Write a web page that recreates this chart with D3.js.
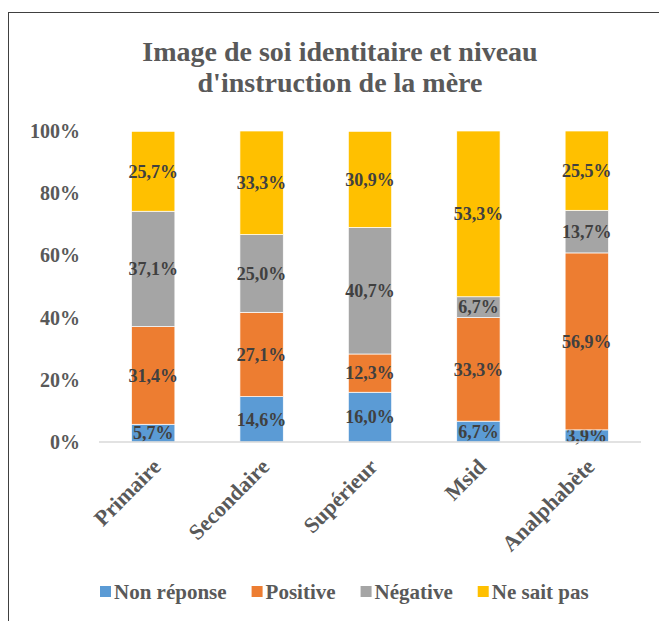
<!DOCTYPE html>
<html>
<head>
<meta charset="utf-8">
<script src="https://cdn.jsdelivr.net/npm/d3@7"></script>
<style>
    body { margin: 0; background: #ffffff; }
    svg text { font-family: "Liberation Serif", "Times New Roman", serif; font-weight: bold; }
</style>
</head>
<body>
<div id="chart"></div>
<script>

const categories = ['Primaire', 'Secondaire', 'Supérieur', 'Msid', 'Analphabète'];
const seriesNames = ['Non réponse', 'Positive', 'Négative', 'Ne sait pas'];
const nonReponse = [5.7, 14.6, 16.0, 6.7, 3.9];
const positive = [31.4, 27.1, 12.3, 33.3, 56.9];
const negative = [37.1, 25.0, 40.7, 6.7, 13.7];
const neSaitPas = [25.7, 33.3, 30.9, 53.3, 25.5];
const yTickValues = [0, 20, 40, 60, 80, 100];
const titleLines = ['Image de soi identitaire et niveau', "d'instruction de la mère"];

let render_chart = function() {

    const width = 659;
    const height = 621;
    const colors = ['#5b9bd5', '#ed7d31', '#a5a5a5', '#ffc000'];
    const textColor = '#595959';

    const margin = { left: 99, right: 18, top: 131, bottom: 179 };
    const innerHeight = height - margin.top - margin.bottom;

    const svg = d3.select('#chart').append('svg')
        .attr('width', width)
        .attr('height', height);

    /* frame of the chart area (runs past the picture on right and bottom) */
    svg.append('rect')
        .attr('x', 8.5)
        .attr('y', 12.5)
        .attr('width', 700)
        .attr('height', 700)
        .attr('fill', 'none')
        .attr('stroke', '#404040')
        .attr('stroke-width', 1);

    /* title */
    svg.append('text')
        .attr('x', 340)
        .attr('y', 61)
        .attr('text-anchor', 'middle')
        .attr('fill', textColor)
        .style('font-size', '28px')
        .selectAll('tspan')
        .data(titleLines)
        .enter().append('tspan')
          .attr('x', 340)
          .attr('dy', (d, i) => i === 0 ? 0 : 31)
          .text(d => d);

    const rows = categories.map((c, i) => ({
        name: c,
        'Non réponse': nonReponse[i],
        'Positive': positive[i],
        'Négative': negative[i],
        'Ne sait pas': neSaitPas[i]
    }));

    const stacked = d3.stack().keys(seriesNames)(rows);

    const xScale = d3.scaleBand()
        .domain(categories)
        .range([margin.left, width - margin.right])
        .paddingInner(0.6)
        .paddingOuter(0.3);

    const yScale = d3.scaleLinear()
        .domain([0, 100])
        .range([margin.top + innerHeight, margin.top]);

    /* y tick labels, no axis line */
    const yAxis = d3.axisLeft(yScale)
        .tickValues(yTickValues)
        .tickSize(0)
        .tickPadding(0)
        .tickFormat(d => d + '%');

    const yAxisG = svg.append('g')
        .attr('transform', 'translate(80,0)')
        .call(yAxis);
    yAxisG.select('.domain').remove();
    yAxisG.selectAll('text')
        .attr('fill', textColor)
        .style('font-size', '20px')
        .style('font-family', '"Liberation Serif", serif');

    /* stacked bars */
    const layer = svg.append('g').selectAll('g')
        .data(stacked)
        .enter().append('g')
          .attr('fill', (d, i) => colors[i]);

    layer.selectAll('rect')
        .data(d => d)
        .enter().append('rect')
          .attr('x', d => xScale(d.data.name))
          .attr('y', d => yScale(d[1]))
          .attr('width', xScale.bandwidth())
          .attr('height', d => yScale(d[0]) - yScale(d[1]))
          .attr('stroke', '#ffffff')
          .attr('stroke-width', 0.7);

    /* x axis baseline */
    svg.append('line')
        .attr('x1', margin.left)
        .attr('x2', width - margin.right)
        .attr('y1', yScale(0))
        .attr('y2', yScale(0))
        .attr('stroke', '#d9d9d9')
        .attr('stroke-width', 1.5);

    /* data labels */
    layer.selectAll('text')
        .data(d => d)
        .enter().append('text')
          .attr('x', d => xScale(d.data.name) + xScale.bandwidth() / 2)
          .attr('y', d => yScale((d[0] + d[1]) / 2))
          .attr('dy', '0.35em')
          .attr('text-anchor', 'middle')
          .attr('fill', '#404040')
          .style('font-size', '18px')
          .text(d => (d[1] - d[0]).toFixed(1).replace('.', ',') + '%');

    /* category labels, rotated */
    svg.append('g').selectAll('text')
        .data(categories)
        .enter().append('text')
          .attr('transform', d => `translate(${xScale(d) + xScale.bandwidth() / 2 + 9},${yScale(0) + 26}) rotate(-45)`)
          .attr('text-anchor', 'end')
          .attr('fill', textColor)
          .style('font-size', '22px')
          .text(d => d);

    /* legend */
    const legend = svg.append('g')
        .attr('transform', 'translate(100,592)');
    let lx = 0;
    seriesNames.forEach((name, i) => {
        legend.append('rect')
            .attr('x', lx)
            .attr('y', -6)
            .attr('width', 11)
            .attr('height', 11)
            .attr('fill', colors[i]);
        let t = legend.append('text')
            .attr('x', lx + 14)
            .attr('y', 0)
            .attr('dy', '0.35em')
            .attr('fill', textColor)
            .style('font-size', '21px')
            .text(name);
        lx += 14 + t.node().getComputedTextLength() + 25;
    });
};

render_chart();
</script>
</body>
</html>
